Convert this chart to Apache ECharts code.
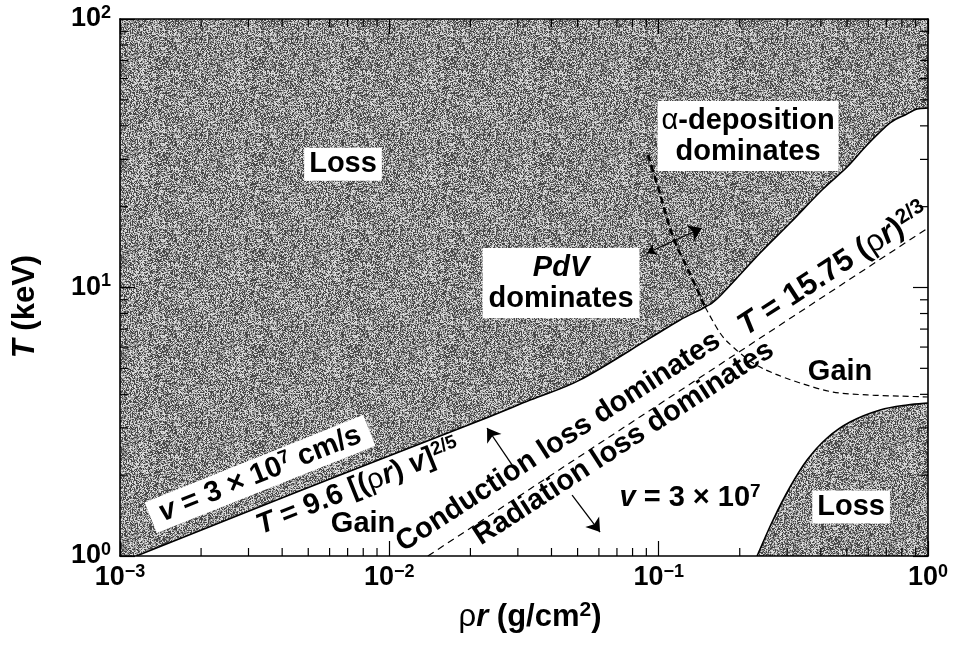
<!DOCTYPE html>
<html><head><meta charset="utf-8">
<script src="https://cdn.jsdelivr.net/npm/echarts@6/dist/echarts.min.js"></script>
<style>html,body{margin:0;padding:0;background:#fff}#c{width:956px;height:657px}</style>
</head><body><div id="c"></div>
<script>
// ---- data ----
const xTicks = [0.001, 0.01, 0.1, 1];
const yTicks = [1, 10, 100];
const xMinorTicks = [0.002,0.003,0.004,0.005,0.006,0.007,0.008,0.009,
                     0.02,0.03,0.04,0.05,0.06,0.07,0.08,0.09,
                     0.2,0.3,0.4,0.5,0.6,0.7,0.8,0.9];
const yMinorTicks = [2,3,4,5,6,7,8,9,20,30,40,50,60,70,80,90];

// gain/loss boundary (solid curve)
const mainX = [0.00115,0.00466,0.0188,0.0333,0.0511,0.0906,0.120,0.149,0.169,0.238,0.3075,0.404,0.501,0.594,0.723,0.822,0.911,1.0];
const mainY = [1.0,1.75,3.02,3.81,4.53,6.38,7.57,8.46,9.30,13.44,17.39,23.08,28.11,33.95,41.0,43.9,46.2,46.6];
// lower-right loss region boundary
const lossX = [0.2319,0.2659,0.3075,0.3556,0.4220,0.5136,0.6641,0.8364,1.0];
const lossY = [1.0,1.362,1.807,2.278,2.751,3.156,3.498,3.651,3.713];
// alpha-deposition / PdV boundary (dashed), part above and below the solid curve
const alphaHiX = [0.0913,0.1012,0.1131,0.1308,0.1487];
const alphaHiY = [31.2,22.3,15.42,11.23,8.46];
const alphaLoX = [0.1487,0.169,0.1889,0.2241,0.2659,0.3351,0.4442,0.594,0.7878,1.0];
const alphaLoY = [8.46,6.77,6.00,5.23,4.80,4.41,4.08,3.98,3.94,3.91];
// conduction / radiation boundary T = 15.75 (rho r)^(2/3)
const radX = [0.0139, 1.0];
const radY = [1.0, 16.66];
// arrows
const arrowAlpha = [[0.0906,13.44],[0.1449,16.66]];
const arrowCond = [[0.02855,2.183],[0.02306,2.997]];
const arrowRad = [[0.04771,1.687],[0.06059,1.228]];

const X_MIN = 0.001, X_MAX = 1, Y_MIN = 1, Y_MAX = 100;
const FONT = '"Liberation Sans", Arial, Helvetica, sans-serif';

// stipple texture (deterministic)
function makeStipple(){
  const n = 96, c = document.createElement('canvas'); c.width = c.height = n;
  const ctx = c.getContext('2d'); const img = ctx.createImageData(n, n);
  let s = 987654321;
  for (let i = 0; i < n*n; i++){
    s = (s * 1103515245 + 12345) & 0x7fffffff;
    const r = (s >> 16) & 255;
    const v = r < 90 ? 70 : (r < 180 ? 150 : 218);
    img.data[i*4] = img.data[i*4+1] = img.data[i*4+2] = v; img.data[i*4+3] = 255;
  }
  ctx.putImageData(img, 0, 0);
  return {image: c, repeat: 'repeat'};
}
const STIPPLE = makeStipple();

function tok(size, extra){ return Object.assign({fontFamily: FONT, fontSize: size, fontWeight: 'bold', color: '#000'}, extra || {}); }
const labelRich = {
  i: tok(29, {fontStyle: 'italic', lineHeight: 31}),
  g: tok(29, {fontWeight: 'normal', lineHeight: 31}),
  s: tok(19, {verticalAlign: 'top', lineHeight: 20}),
  I: tok(31, {fontStyle: 'italic', lineHeight: 33}),
  G: tok(31, {fontWeight: 'normal', lineHeight: 33}),
  S: tok(21, {verticalAlign: 'top', lineHeight: 22}),
  N: tok(31, {lineHeight: 33})
};
const tickRich = { b: tok(27, {lineHeight: 30}), s: tok(18, {verticalAlign: 'top', lineHeight: 18}) };
const nameRich = {
  i: tok(31, {fontStyle: 'italic', lineHeight: 34}),
  g: tok(31, {fontWeight: 'normal', lineHeight: 34}),
  n: tok(31, {lineHeight: 34}),
  s: tok(21, {verticalAlign: 'top', lineHeight: 21})
};

function tickFmt(v){
  const e = Math.round(Math.log10(v));
  return '{b|10}{s|' + (e < 0 ? '\u2212' + (-e) : e) + '}';
}

// smooth (Catmull-Rom) path through pixel points
function crPath(p){
  let d = 'M' + p[0][0] + ' ' + p[0][1];
  for (let i = 0; i < p.length - 1; i++){
    const p0 = p[i-1] || p[i], p1 = p[i], p2 = p[i+1], p3 = p[i+2] || p2;
    const c1 = [p1[0] + (p2[0] - p0[0]) / 6, p1[1] + (p2[1] - p0[1]) / 6];
    const c2 = [p2[0] - (p3[0] - p1[0]) / 6, p2[1] - (p3[1] - p1[1]) / 6];
    d += ' C' + c1[0] + ' ' + c1[1] + ' ' + c2[0] + ' ' + c2[1] + ' ' + p2[0] + ' ' + p2[1];
  }
  return d;
}
function curveSeries(xs, ys, opt){
  return {
    type: 'custom', coordinateSystem: 'cartesian2d', silent: true, clip: true, z: opt.z || 2,
    data: [[xs[0], ys[0]]],
    renderItem: function(p, api){
      const pts = xs.map((x, k) => api.coord([x, ys[k]]));
      const d = crPath(pts);
      const children = [];
      if (opt.fill){
        let f = d;
        (opt.closing || []).forEach(c => { const q = api.coord(c); f += ' L' + q[0] + ' ' + q[1]; });
        f += ' Z';
        children.push({type: 'path', shape: {pathData: f}, style: {fill: opt.fill, stroke: null}});
      }
      if (opt.stroke){
        children.push({type: 'path', shape: {pathData: d}, style: {fill: null, stroke: '#000', lineWidth: opt.width, lineDash: opt.dash || null}});
      }
      return {type: 'group', children: children};
    }
  };
}
function rectSeries(fill){
  return {
    type: 'custom', coordinateSystem: 'cartesian2d', silent: true, clip: true, z: 1,
    data: [[X_MIN, Y_MIN]],
    renderItem: function(p, api){
      const a = api.coord([X_MIN, Y_MAX]), b = api.coord([X_MAX, Y_MIN]);
      return {type: 'rect', shape: {x: a[0], y: a[1], width: b[0] - a[0], height: b[1] - a[1]}, style: {fill: fill}};
    }
  };
}
function tickSeries(vals, isX){
  return {
    type: 'custom', coordinateSystem: 'cartesian2d', silent: true, clip: false, z: 10,
    data: vals.map(v => isX ? [v, Y_MIN] : [X_MIN, v]),
    renderItem: function(p, api){
      const st = {stroke: '#000', lineWidth: 1.2};
      if (isX){
        const v = api.value(0), a = api.coord([v, Y_MIN]), b = api.coord([v, Y_MAX]);
        return {type: 'group', children: [
          {type: 'line', shape: {x1: a[0], y1: a[1], x2: a[0], y2: a[1] - 8}, style: st},
          {type: 'line', shape: {x1: b[0], y1: b[1], x2: b[0], y2: b[1] + 8}, style: st}]};
      } else {
        const v = api.value(1), a = api.coord([X_MIN, v]), b = api.coord([X_MAX, v]);
        return {type: 'group', children: [
          {type: 'line', shape: {x1: a[0], y1: a[1], x2: a[0] + 8, y2: a[1]}, style: st},
          {type: 'line', shape: {x1: b[0], y1: b[1], x2: b[0] - 8, y2: b[1]}, style: st}]};
      }
    }
  };
}

const annotations = [
  {at: [0.00673, 28.8], text: 'Loss', box: [1, 5]},
  {at: [0.0434, 10.39], text: '{i|PdV}\ndominates', box: [4, 6]},
  {at: [0.2148, 36.66], text: '{g|\u03b1}-deposition\ndominates', box: [4, 4]},
  {at: [0.00331, 2.02], text: '{i|v} = 3 \u00d7 10{s|7} cm/s', rotate: 21.8, box: [1, 10]},
  {at: [0.00765, 1.81], text: '{i|T} = 9.6 [({g|\u03c1}{i|r}) {i|v}]{s|2/5}', rotate: 21.8},
  {at: [0.00799, 1.316], text: 'Gain'},
  {at: [0.0424, 2.66], text: 'Conduction loss dominates', rotate: 33},
  {at: [0.0742, 2.63], text: 'Radiation loss dominates', rotate: 33},
  {at: [0.445, 11.7], text: '{I|T}{N| = 15.75 (}{G|\u03c1}{I|r}{N|)}{S|2/3}', rotate: 33},
  {at: [0.4716, 4.845], text: 'Gain'},
  {at: [0.1308, 1.644], text: '{i|v} = 3 \u00d7 10{s|7}'},
  {at: [0.5182, 1.522], text: 'Loss', box: [1, 5]}
];

const axisCommon = {
  type: 'log', logBase: 10, z: 10,
  axisLine: {show: true, onZero: false, lineStyle: {color: '#000', width: 1.6}},
  axisTick: {show: true, inside: true, length: 15, lineStyle: {color: '#000', width: 1.2}},
  splitLine: {show: false}, minorTick: {show: false}, minorSplitLine: {show: false}
};

const option = {
  animation: false,
  backgroundColor: '#fff',
  grid: {left: 120, right: 28, top: 19, bottom: 101, containLabel: false},
  xAxis: [
    Object.assign({}, axisCommon, {min: X_MIN, max: X_MAX, position: 'bottom',
      axisLabel: {formatter: tickFmt, rich: tickRich, margin: 7},
      name: '{g|\u03c1}{i|r}{n| (g/cm}{s|2}{n|)}', nameLocation: 'middle', nameGap: 44,
      nameTextStyle: {fontFamily: FONT, fontSize: 31, fontWeight: 'bold', color: '#000', lineHeight: 34, rich: nameRich, padding: [0, 0, 0, 12]}}),
    Object.assign({}, axisCommon, {min: X_MIN, max: X_MAX, position: 'top', axisLabel: {show: false}})
  ],
  yAxis: [
    Object.assign({}, axisCommon, {min: Y_MIN, max: Y_MAX, position: 'left',
      axisLabel: {formatter: tickFmt, rich: tickRich, margin: 9},
      name: '{i|T}{n| (keV)}', nameLocation: 'middle', nameRotate: 90, nameGap: 78,
      nameTextStyle: {fontFamily: FONT, fontSize: 31, fontWeight: 'bold', color: '#000', lineHeight: 34, rich: nameRich, padding: [0, 38, 0, 0]}}),
    Object.assign({}, axisCommon, {min: Y_MIN, max: Y_MAX, position: 'right', axisLabel: {show: false}})
  ],
  series: [
    rectSeries(STIPPLE),
    curveSeries(mainX, mainY, {fill: '#fff', closing: [[X_MAX, Y_MIN], [mainX[0], Y_MIN]], z: 1}),
    curveSeries(lossX, lossY, {fill: STIPPLE, closing: [[X_MAX, Y_MIN]], z: 1}),
    curveSeries(mainX, mainY, {stroke: true, width: 1.6, z: 3}),
    curveSeries(lossX, lossY, {stroke: true, width: 1.6, z: 3}),
    curveSeries(alphaHiX, alphaHiY, {stroke: true, width: 2.6, dash: [7, 4], z: 3}),
    curveSeries(alphaLoX, alphaLoY, {stroke: true, width: 1.2, dash: [6, 4], z: 3}),
    {type: 'line', data: radX.map((x, k) => [x, radY[k]]), symbol: 'none', showSymbol: false, silent: true, z: 3,
      lineStyle: {color: '#000', width: 1.2, type: [7, 5]}},
    {type: 'lines', coordinateSystem: 'cartesian2d', silent: true, z: 4, symbolSize: [9, 13],
      lineStyle: {color: '#000', width: 1.3, opacity: 1},
      data: [
        {coords: arrowAlpha, symbol: ['arrow', 'arrow']},
        {coords: arrowCond, symbol: ['none', 'arrow']},
        {coords: arrowRad, symbol: ['none', 'arrow']}
      ]},
    {type: 'scatter', silent: true, z: 6, symbolSize: 1, itemStyle: {color: 'rgba(0,0,0,0)', opacity: 1},
      data: annotations.map(a => ({
        value: a.at,
        label: {
          show: true, position: 'inside', formatter: a.text, rotate: a.rotate || 0,
          align: 'center', verticalAlign: 'middle', opacity: 1,
          fontFamily: FONT, fontSize: 29, fontWeight: 'bold', color: '#000', lineHeight: 31,
          backgroundColor: a.box ? '#fff' : 'transparent', padding: a.box || 0,
          rich: labelRich
        }
      }))},
    tickSeries(xMinorTicks, true),
    tickSeries(yMinorTicks, false)
  ]
};
const chart = echarts.init(document.getElementById('c'), null, {renderer: 'canvas'});
chart.setOption(option);
</script></body></html>
